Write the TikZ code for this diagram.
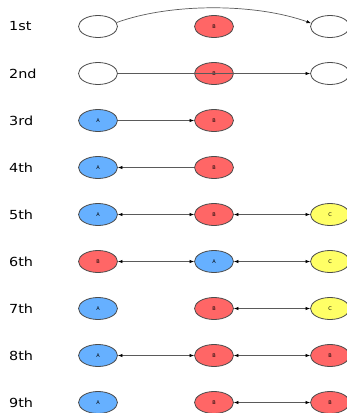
\documentclass[tikz,border=0pt]{standalone}
\usepackage{fontspec}
\setmainfont{DejaVu Sans}
\newfontfamily\labfont[FakeStretch=1.15]{DejaVu Sans}
\usetikzlibrary{shapes.geometric,arrows.meta}
\definecolor{nred}{HTML}{FF6666}
\definecolor{nblue}{HTML}{66B0FF}
\definecolor{nyellow}{HTML}{FFFF66}
\definecolor{edgegray}{HTML}{5A5A5A}
\begin{document}
\begin{tikzpicture}[x=1pt,y=-1pt,
  nd/.style={ellipse,draw=black!70,line width=0.8pt,minimum width=39pt,minimum height=22pt,inner sep=0pt,font=\fontsize{5}{5}\selectfont},
  emptynd/.style={nd,fill=white},
  rednd/.style={nd,fill=nred},
  bluend/.style={nd,fill=nblue},
  yellownd/.style={nd,fill=nyellow},
  rowlab/.style={anchor=west,inner sep=0pt,font=\labfont\fontsize{12.5}{12.5}\selectfont},
  con/.style={draw=edgegray,line width=0.7pt},
  tip/.style={-{Latex[length=4.5pt,width=3.4pt,color=black]}},
  both/.style={{Latex[length=4.5pt,width=3.4pt,color=black]}-{Latex[length=4.5pt,width=3.4pt,color=black]}}
]
\useasboundingbox (0,0) rectangle (346,413);
% row labels
\node[rowlab] (l1) at (9,26.5) {1st};
\node[rowlab] (l2) at (9,73.5) {2nd};
\node[rowlab] (l3) at (9,120.5) {3rd};
\node[rowlab] (l4) at (9,167.5) {4th};
\node[rowlab] (l5) at (9,214.5) {5th};
\node[rowlab] (l6) at (9,261.5) {6th};
\node[rowlab] (l7) at (9,308.5) {7th};
\node[rowlab] (l8) at (9,355.5) {8th};
\node[rowlab] (l9) at (9,402.5) {9th};
% row 1
\node[emptynd] (r1a) at (98,26.5) {};
\node[rednd] (r1b) at (214,26.5) {B};
\node[emptynd] (r1c) at (330,26.5) {};
\draw[con,tip] (r1a.12) .. controls (170,3) and (255,3) .. (r1c.170);
% row 2
\node[emptynd] (r2a) at (98,73.5) {};
\node[rednd] (r2b) at (214,73.5) {B};
\node[emptynd] (r2c) at (330,73.5) {};
\draw[con,tip] (r2a.east) -- (r2c.west);
% row 3
\node[bluend] (r3a) at (98,120.5) {A};
\node[rednd] (r3b) at (214,120.5) {B};
\draw[con,tip] (r3a) -- (r3b);
% row 4
\node[bluend] (r4a) at (98,167.5) {A};
\node[rednd] (r4b) at (214,167.5) {B};
\draw[con,tip] (r4b) -- (r4a);
% row 5
\node[bluend] (r5a) at (98,214.5) {A};
\node[rednd] (r5b) at (214,214.5) {B};
\node[yellownd] (r5c) at (330,214.5) {C};
\draw[con,both] (r5a) -- (r5b);
\draw[con,both] (r5b) -- (r5c);
% row 6
\node[rednd] (r6a) at (98,261.5) {B};
\node[bluend] (r6b) at (214,261.5) {A};
\node[yellownd] (r6c) at (330,261.5) {C};
\draw[con,both] (r6a) -- (r6b);
\draw[con,both] (r6b) -- (r6c);
% row 7
\node[bluend] (r7a) at (98,308.5) {A};
\node[rednd] (r7b) at (214,308.5) {B};
\node[yellownd] (r7c) at (330,308.5) {C};
\draw[con,both] (r7b) -- (r7c);
% row 8
\node[bluend] (r8a) at (98,355.5) {A};
\node[rednd] (r8b) at (214,355.5) {B};
\node[rednd] (r8c) at (330,355.5) {B};
\draw[con,both] (r8a) -- (r8b);
\draw[con,both] (r8b) -- (r8c);
% row 9
\node[bluend] (r9a) at (98,402.5) {A};
\node[rednd] (r9b) at (214,402.5) {B};
\node[rednd] (r9c) at (330,402.5) {B};
\draw[con,both] (r9b) -- (r9c);
\end{tikzpicture}
\end{document}
